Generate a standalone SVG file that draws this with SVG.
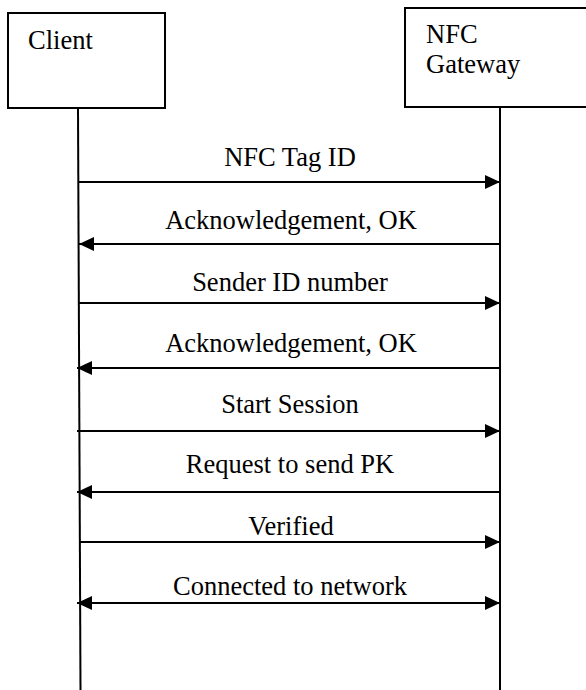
<svg xmlns="http://www.w3.org/2000/svg" width="586" height="690" viewBox="0 0 586 690">
<style>
.box{fill:#fff;stroke:#000;stroke-width:2}
.life{stroke:#000;stroke-width:2}
.msg{stroke:#000;stroke-width:2;fill:none}
.t{font-size:26.5px;fill:#000}
.c{text-anchor:middle}
</style>
<defs>
<marker id="ah" viewBox="0 0 15 14" refX="15" refY="7" markerWidth="15" markerHeight="14" markerUnits="userSpaceOnUse" orient="auto-start-reverse">
<path d="M0,0 L15,7 L0,14 Z" fill="#000"/>
</marker>
</defs>
<rect width="586" height="690" fill="#fff"/>
<g font-family="'Liberation Serif', 'DejaVu Serif', serif">
<g id="client">
<rect class="box" x="8" y="13" width="157" height="95"/>
<text class="t" x="28" y="49">Client</text>
<line class="life" x1="78" y1="108" x2="80.5" y2="690"/>
</g>
<g id="gateway">
<rect class="box" x="405" y="8" width="200" height="99"/>
<text class="t" x="426" y="43">NFC</text>
<text class="t" x="426" y="73">Gateway</text>
<line class="life" x1="500" y1="107" x2="500" y2="690"/>
</g>
<g id="connectors">
<line class="msg" x1="78" y1="182" x2="500" y2="182" marker-end="url(#ah)"/>
<line class="msg" x1="500" y1="244" x2="79" y2="244" marker-end="url(#ah)"/>
<line class="msg" x1="78" y1="303" x2="500" y2="303" marker-end="url(#ah)"/>
<line class="msg" x1="500" y1="368" x2="77" y2="368" marker-end="url(#ah)"/>
<line class="msg" x1="77" y1="431" x2="500" y2="431" marker-end="url(#ah)"/>
<line class="msg" x1="500" y1="492" x2="77" y2="492" marker-end="url(#ah)"/>
<line class="msg" x1="80" y1="542" x2="500" y2="542" marker-end="url(#ah)"/>
<line class="msg" x1="77" y1="603" x2="500" y2="603" marker-start="url(#ah)" marker-end="url(#ah)"/>
</g>
<g id="labels">
<text class="t c" x="290" y="166">NFC Tag ID</text>
<text class="t c" x="291" y="229">Acknowledgement, OK</text>
<text class="t c" x="290" y="291">Sender ID number</text>
<text class="t c" x="291" y="352">Acknowledgement, OK</text>
<text class="t c" x="290" y="413">Start Session</text>
<text class="t c" x="290" y="473">Request to send PK</text>
<text class="t c" x="291" y="535">Verified</text>
<text class="t c" x="290" y="595">Connected to network</text>
</g>
</g>
</svg>
